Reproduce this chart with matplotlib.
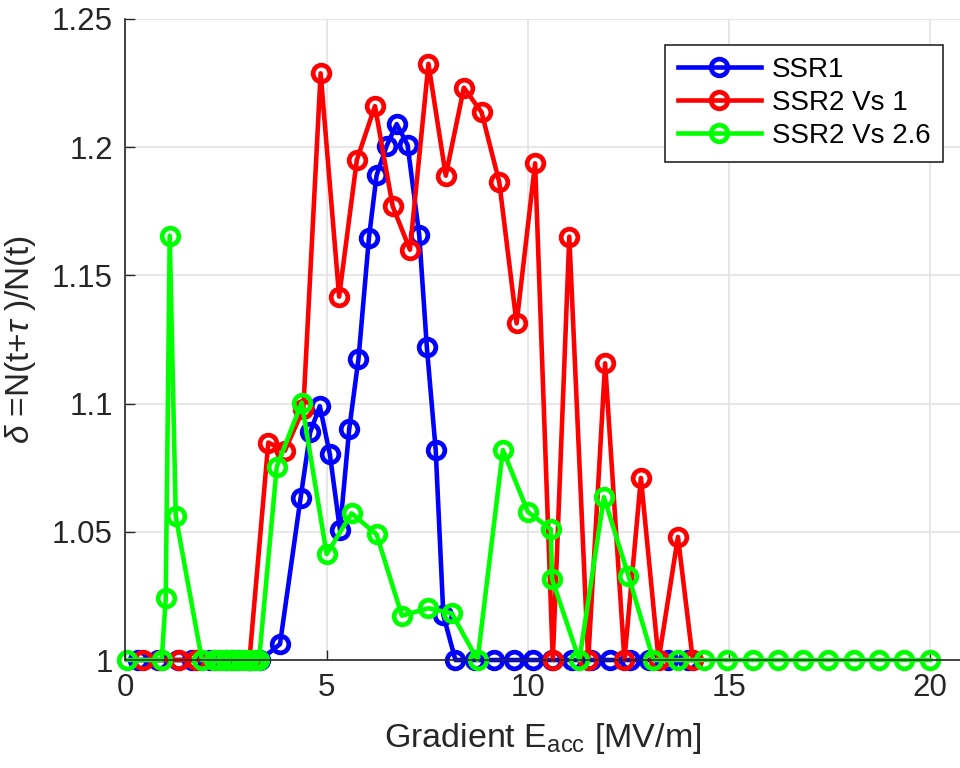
import matplotlib
matplotlib.use("Agg")
import matplotlib.pyplot as plt

plt.rcParams['font.family'] = ['Liberation Sans', 'DejaVu Sans']
plt.rcParams['mathtext.fontset'] = 'custom'
plt.rcParams['mathtext.rm'] = 'Liberation Sans'
plt.rcParams['mathtext.it'] = 'Liberation Sans:italic'

# SSR1
blue_x = [0.3, 0.8, 1.3, 1.65, 2.1, 2.5, 2.8, 3.1, 3.35, 3.84, 4.35, 4.59, 4.83, 5.08,
          5.33, 5.56, 5.79, 6.05, 6.24, 6.49, 6.74, 7.01, 7.30, 7.49, 7.71, 7.90, 8.2,
          8.68, 9.17, 9.65, 10.13, 10.61, 11.09, 11.57, 12.05, 12.53, 13.01, 13.49, 13.97]
blue_y = [1, 1, 1, 1, 1, 1, 1, 1, 1, 1.0062, 1.063, 1.0888, 1.099, 1.0802,
          1.0507, 1.09, 1.1173, 1.1645, 1.189, 1.2005, 1.209, 1.2009, 1.1658, 1.122, 1.0819, 1.0175, 1,
          1, 1, 1, 1, 1, 1, 1, 1, 1, 1, 1, 1]

# SSR2 Vs 1
red_x = [0.44, 0.88, 1.32, 1.76, 2.2, 2.64, 3.08, 3.55, 3.96, 4.42, 4.85, 5.31, 5.75, 6.20,
         6.64, 7.07, 7.53, 7.96, 8.41, 8.85, 9.29, 9.72, 10.18, 10.62, 11.03, 11.5, 11.92,
         12.4, 12.81, 13.25, 13.73, 14.1]
red_y = [1, 1, 1, 1, 1, 1, 1, 1.0848, 1.0816, 1.098, 1.2288, 1.1417, 1.195, 1.216,
         1.177, 1.160, 1.2325, 1.1889, 1.2232, 1.2136, 1.1863, 1.1313, 1.1937, 1, 1.1651, 1, 1.1157,
         1, 1.071, 1, 1.048, 1]

# SSR2 Vs 2.6
green_x = [0.05, 0.9, 1.0, 1.1, 1.25, 1.9, 2.2, 2.35, 2.5, 2.62, 2.75, 2.9, 3.05, 3.2, 3.32,
           3.76, 4.38, 5.0, 5.62, 6.24, 6.87, 7.53, 8.11, 8.75, 9.38, 10.0, 10.57, 10.6, 11.28,
           11.89, 12.5, 13.12, 13.74, 14.38, 14.96, 15.6, 16.22, 16.84, 17.47, 18.1, 18.72,
           19.36, 20.0]
green_y = [1, 1, 1.024, 1.1655, 1.056, 1, 1, 1, 1, 1, 1, 1, 1, 1, 1,
           1.0754, 1.1004, 1.0413, 1.0572, 1.049, 1.0173, 1.0202, 1.0182, 1, 1.0819, 1.0578, 1.051, 1.0316, 1,
           1.0635, 1.0329, 1, 1, 1, 1, 1, 1, 1, 1, 1, 1,
           1, 1]

labels = ['SSR1', 'SSR2 Vs 1', 'SSR2 Vs 2.6']
xticks = [0, 5, 10, 15, 20]
yticks = [1, 1.05, 1.1, 1.15, 1.2, 1.25]
ytick_labels = ['1', '1.05', '1.1', '1.15', '1.2', '1.25']

fig = plt.figure(figsize=(9.6, 7.68), dpi=100)
ax = fig.add_axes([0.1307, 0.1406, 0.8693, 0.8347])

style = dict(marker='o', markersize=12, markerfacecolor='none', markeredgewidth=3.4,
             linewidth=3.3, clip_on=False)
ax.plot(blue_x, blue_y, color=(0, 0, 1), label=labels[0], **style)
ax.plot(red_x, red_y, color=(1, 0, 0), label=labels[1], **style)
ax.plot(green_x, green_y, color=(0, 1, 0), label=labels[2], **style)

ax.set_xlim(0, 20.74)
ax.set_ylim(1, 1.25)
ax.set_xticks(xticks)
ax.set_yticks(yticks)
ax.set_yticklabels(ytick_labels)
ax.tick_params(direction='in', labelsize=22.5, colors='#262626', length=7, width=1, pad=9)
ax.grid(True, color='#e3e3e3', linewidth=1.2)
ax.set_axisbelow(True)
for s in ['top', 'right']:
    ax.spines[s].set_visible(False)
for s in ['left', 'bottom']:
    ax.spines[s].set_color('#262626')
    ax.spines[s].set_linewidth(1.2)

ax.set_xlabel(r'Gradient E$_{\mathregular{acc}}$ [MV/m]', fontsize=24.5, color='#262626', labelpad=13)
ax.set_ylabel(r'$\delta$ =N(t+$\tau$ )/N(t)', fontsize=24, color='#262626', labelpad=10)

leg = ax.legend(loc='upper right', bbox_to_anchor=(0.98, 0.96), borderaxespad=0, fontsize=20,
                frameon=True, fancybox=False, edgecolor='#262626', handlelength=3.0,
                borderpad=0.45, labelspacing=0.25, handletextpad=0.4, framealpha=1)
leg.get_frame().set_linewidth(1.2)

fig.savefig('out.png', dpi=100)
